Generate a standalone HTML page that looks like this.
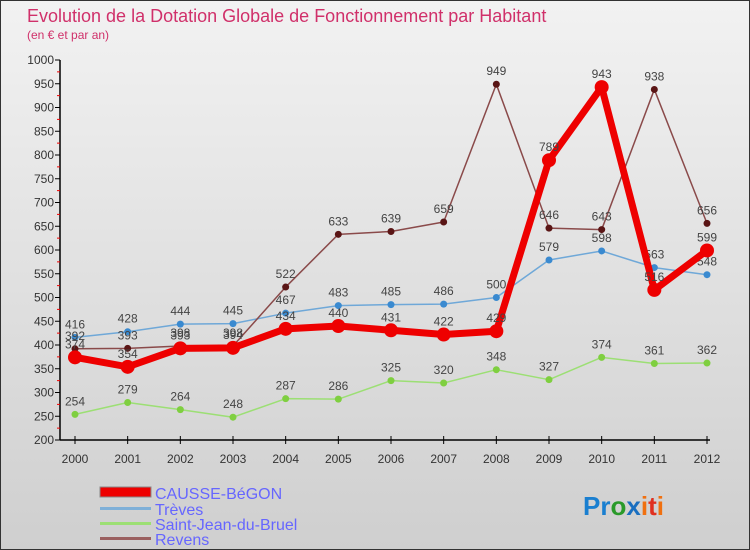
<!DOCTYPE html>
<html><head><meta charset="utf-8"><style>
body{margin:0}
#c{width:750px;height:550px;position:relative;overflow:hidden;font-family:"Liberation Sans",sans-serif}
</style></head><body>
<div id="c">
<svg id="s" width="750" height="550" xmlns="http://www.w3.org/2000/svg">
<defs><linearGradient id="bg" x1="0" y1="0" x2="0" y2="1"><stop offset="0" stop-color="#f2f2f2"/><stop offset="1" stop-color="#cfcfcf"/></linearGradient></defs>
<rect x="0.5" y="0.5" width="749" height="549" fill="url(#bg)" stroke="#333"/>
<text x="27" y="22" font-size="18" fill="#d0306a">Evolution de la Dotation Globale de Fonctionnement par Habitant</text>
<text x="27" y="39" font-size="12" fill="#d0306a">(en € et par an)</text>
<g id="axes"></g><g id="marks"></g>
<g>
<rect x="100" y="487" width="51" height="10" fill="#e00" stroke="#888" stroke-width="1"/>
<text x="155" y="499" font-size="16" fill="#6666ff">CAUSSE-BéGON</text>
<rect x="100" y="507" width="51" height="3" fill="#7fb0d8"/>
<text x="155" y="515" font-size="16" fill="#6666ff">Trèves</text>
<rect x="100" y="522" width="51" height="3" fill="#9cdf74"/>
<text x="155" y="530" font-size="16" fill="#6666ff">Saint-Jean-du-Bruel</text>
<rect x="100" y="537" width="51" height="3" fill="#9a6060"/>
<text x="155" y="545" font-size="16" fill="#6666ff">Revens</text>
</g>
<text x="583" y="515" font-size="26" font-weight="bold"><tspan fill="#1a7fd0">Pr</tspan><tspan fill="#2a9a2a">o</tspan><tspan fill="#1a6fc0">x</tspan><tspan fill="#f07010">i</tspan><tspan fill="#e03020">t</tspan><tspan fill="#f07010">i</tspan></text>
</svg></div>
<script>
const years=[2000,2001,2002,2003,2004,2005,2006,2007,2008,2009,2010,2011,2012];
const yTicks=[200,250,300,350,400,450,500,550,600,650,700,750,800,850,900,950,1000];
const causse=[374,354,393,394,434,440,431,422,429,789,943,516,599];
const treves=[416,428,444,445,467,483,485,486,500,579,598,563,548];
const sjb=[254,279,264,248,287,286,325,320,348,327,374,361,362];
const revens=[392,393,398,398,522,633,639,659,949,646,643,938,656];
const NS="http://www.w3.org/2000/svg";
function X(i){return 75+i*(707-75)/12;}
function Y(v){return 440-(v-200)*380/800;}
function mk(t,a,p){const e=document.createElementNS(NS,t);for(const k in a)e.setAttribute(k,a[k]);p.appendChild(e);return e;}
const ax=document.getElementById('axes'),mg=document.getElementById('marks');
const yl=mk('line',{x1:60,y1:60,x2:60,y2:440,stroke:'#000','stroke-width':1.5},ax);


const xl=mk('line',{x1:60,y1:440,x2:710,y2:440,stroke:'#000','stroke-width':1.5},ax);


yTicks.forEach(v=>{const y=Y(v);
mk('line',{x1:55,y1:y,x2:60,y2:y,stroke:'#000'},ax);
if(v<1000)mk('line',{x1:57,y1:Y(v+25),x2:60,y2:Y(v+25),stroke:'#e00'},ax);
const t=mk('text',{x:54,y:y+4,'font-size':12,'text-anchor':'end',fill:'#333'},ax);t.textContent=v;

});
years.forEach((yr,i)=>{mk('line',{x1:X(i),y1:436,x2:X(i),y2:444,stroke:'#000'},ax);
const t=mk('text',{x:X(i),y:463,'font-size':12,'text-anchor':'middle',fill:'#333'},ax);t.textContent=yr;

});
function series(d,col,w,r,ptcol,name){
const g=mk('g',{},mg);


mk('polyline',{points:d.map((v,i)=>X(i)+','+Y(v)).join(' '),fill:'none',stroke:col,'stroke-width':w,'stroke-linejoin':'round'},g);
d.forEach((v,i)=>{const c=mk('circle',{cx:X(i),cy:Y(v),r:r,fill:ptcol},g);


const t=mk('text',{x:X(i),y:Y(v)-9,'font-size':12,'text-anchor':'middle',fill:'#444'},g);t.textContent=v;});}
series(sjb,'#9cdf74',1.5,3.5,'#7fcf40','saint-jean-du-bruel');
series(treves,'#6fa8d8',1.5,3.5,'#3a8ad0','treves');
series(revens,'#8a4a4a',1.5,3.5,'#5a1515','revens');
series(causse,'#ee0000',7,7,'#ee0000','causse-begon');
</script>
</body></html>
